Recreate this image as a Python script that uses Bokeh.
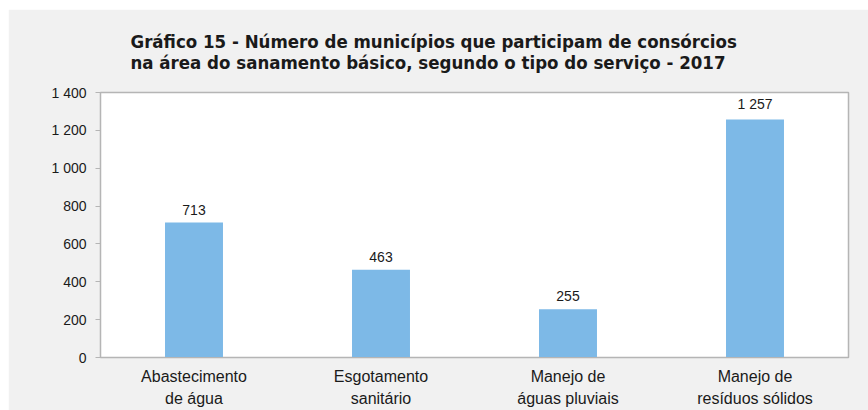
from bokeh.plotting import figure
from bokeh.models import ColumnDataSource, FixedTicker, Spacer
from bokeh.layouts import column, row
from bokeh.core.properties import value
from bokeh.embed import file_html
from bokeh.resources import INLINE

categories = ["Abastecimento\nde água", "Esgotamento\nsanitário", "Manejo de\náguas pluviais", "Manejo de\nresíduos sólidos"]
values = [713, 463, 255, 1257]
y_ticks = [0, 200, 400, 600, 800, 1000, 1200, 1400]
title_lines = ["Gráfico 15 - Número de municípios que participam de consórcios",
               "na área do sanamento básico, segundo o tipo do serviço - 2017"]

def fmt(v):
    return f"{v:,}".replace(",", " ")

src = ColumnDataSource(dict(x=categories, top=values, lab=[fmt(v) for v in values]))

BG = "#f1f1f1"
p = figure(width=860, height=401, x_range=categories, y_range=(0, 1400),
           output_backend="svg", toolbar_location=None,
           background_fill_color="white", border_fill_color=BG,
           min_border_left=92, min_border_right=20, min_border_top=83, min_border_bottom=53)

p.vbar(x="x", top="top", width=0.31, source=src, color="#7db9e7", line_color=None)
p.text(x="x", y="top", text="lab", source=src, text_align="center", text_baseline="bottom",
       y_offset=-8, text_font=value("Liberation Sans"), text_font_size="14px", text_color="#1a1a1a")

p.outline_line_color = "#b5b5b5"
p.outline_line_width = 1.5
p.xgrid.visible = False
p.ygrid.visible = False

p.yaxis.ticker = FixedTicker(ticks=y_ticks)
p.yaxis.major_label_overrides = {t: fmt(t) for t in y_ticks}
p.yaxis.axis_line_color = "#b5b5b5"
p.yaxis.major_tick_line_color = "#b5b5b5"
p.yaxis.major_tick_in = 0
p.yaxis.major_tick_out = 5
p.yaxis.minor_tick_line_color = None
p.yaxis.major_label_standoff = 9
p.yaxis.major_label_text_font = "Liberation Sans"
p.yaxis.major_label_text_font_size = "14px"
p.yaxis.major_label_text_color = "#1a1a1a"

p.xaxis.axis_line_color = "#b5b5b5"
p.xaxis.major_tick_line_color = None
p.xaxis.minor_tick_line_color = None
p.xaxis.major_label_standoff = 4
p.xaxis.major_label_text_font = "Liberation Sans"
p.xaxis.major_label_text_font_size = "16px"
p.xaxis.major_label_text_color = "#1a1a1a"
p.xaxis.major_label_text_line_height = 1.35

p.title.text = "\n".join(title_lines)
p.title.align = "left"
p.title.offset = 30
p.title.standoff = 39
p.title.text_font = "DejaVu Sans Condensed"
p.title.text_font_style = "bold"
p.title.text_font_size = "18.5px"
p.title.text_color = "#1a1a1a"
p.title.text_line_height = 1.0

layout = column(Spacer(height=9), row(Spacer(width=8), p), spacing=0)
open("out.html", "w").write(file_html(layout, INLINE))
